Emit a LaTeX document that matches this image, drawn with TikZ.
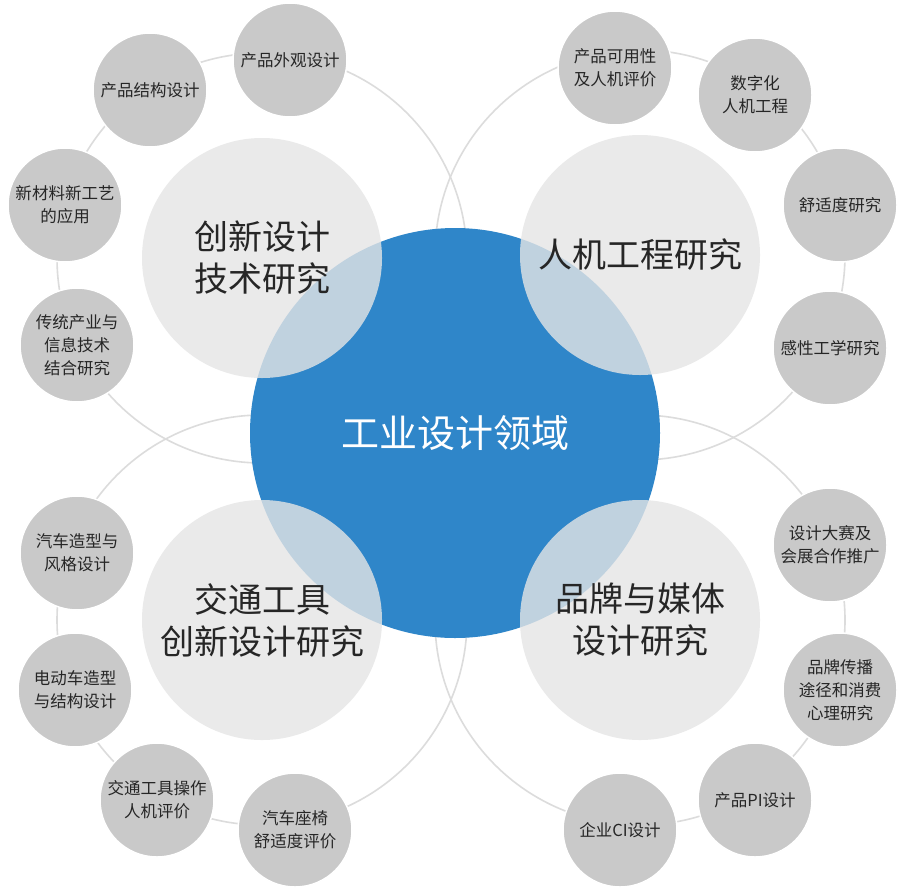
\documentclass[tikz,border=0pt]{standalone}
\usepackage{fontspec}
\setmainfont{Noto Sans CJK SC}
\definecolor{mainblue}{HTML}{2F86C9}
\definecolor{petal}{HTML}{E5E5E5}
\definecolor{leaf}{HTML}{C9C9C9}
\definecolor{ring}{HTML}{DCDCDC}
\tikzset{
  orbit/.style={draw=ring,line width=1.6pt},
  hub/.style={circle,fill=mainblue,minimum size=410pt,text=white,font=\fontsize{38}{44}\selectfont},
  petalnode/.style={circle,fill=petal,fill opacity=0.8,text opacity=1,minimum size=240pt,align=center,text=black!85,font=\fontsize{34}{42}\selectfont},
  leafnode/.style={circle,fill=leaf,draw=white,line width=1.5pt,minimum size=114pt,inner sep=1pt,align=center,text=black!85,font=\fontsize{16.5}{23}\selectfont}
}
\begin{document}
\begin{tikzpicture}[x=1pt,y=-1pt]
  \useasboundingbox (0,0) rectangle (909,894);
  \fill[white] (0,0) rectangle (909,894);

  % orbits
  \foreach \cx/\cy in {262/258,640/255,262/620,640/620}
    \draw[orbit] (\cx,\cy) circle (205);

  \node[hub] (hub) at (455,433) {工业设计领域};

  \node[petalnode] (tl) at (262,258) {创新设计\\技术研究};
  \node[petalnode] (tr) at (640,255) {人机工程研究};
  \node[petalnode] (bl) at (262,620) {交通工具\\创新设计研究};
  \node[petalnode] (br) at (640,620) {品牌与媒体\\设计研究};

  % top left
  \node[leafnode] (tl1) at (290,60)  {产品外观设计};
  \node[leafnode] (tl2) at (150,90)  {产品结构设计};
  \node[leafnode] (tl3) at (65,205)  {新材料新工艺\\的应用};
  \node[leafnode] (tl4) at (77,345)  {传统产业与\\信息技术\\结合研究};
  % top right
  \node[leafnode] (tr1) at (615,68)  {产品可用性\\及人机评价};
  \node[leafnode] (tr2) at (755,95)  {数字化\\人机工程};
  \node[leafnode] (tr3) at (840,205) {舒适度研究};
  \node[leafnode] (tr4) at (830,348) {感性工学研究};
  % bottom left
  \node[leafnode] (bl1) at (77,553)  {汽车造型与\\风格设计};
  \node[leafnode] (bl2) at (75,690)  {电动车造型\\与结构设计};
  \node[leafnode] (bl3) at (157,800) {交通工具操作\\人机评价};
  \node[leafnode] (bl4) at (295,830) {汽车座椅\\舒适度评价};
  % bottom right
  \node[leafnode] (br1) at (830,545) {设计大赛及\\会展合作推广};
  \node[leafnode] (br2) at (840,690) {品牌传播\\途径和消费\\心理研究};
  \node[leafnode] (br3) at (755,800) {产品PI设计};
  \node[leafnode] (br4) at (620,830) {企业CI设计};
\end{tikzpicture}
\end{document}
